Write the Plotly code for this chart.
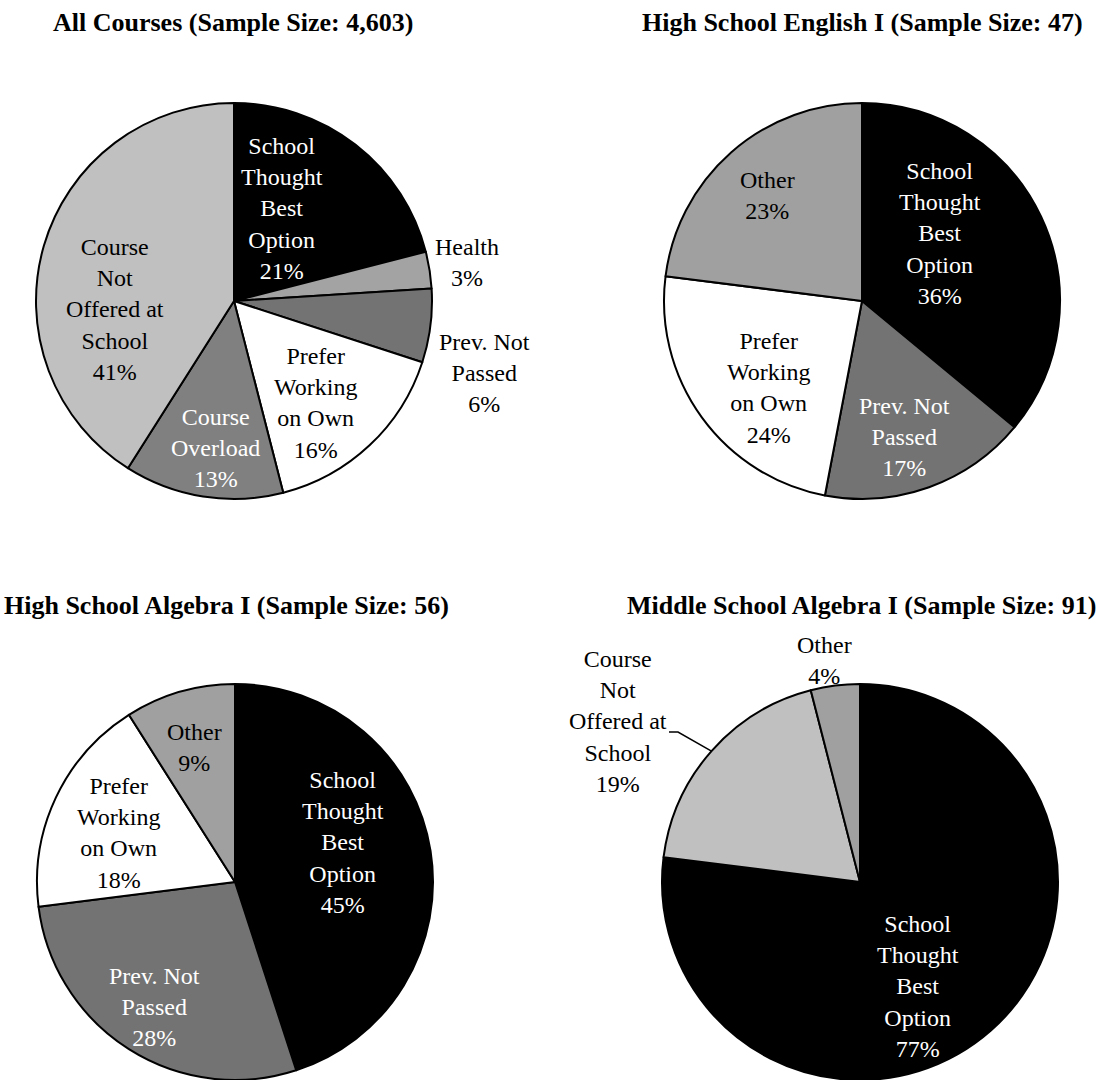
import math
import plotly.graph_objects as go

# ---- data -----------------------------------------------------------------
all_courses_cats = ["School Thought Best Option", "Health", "Prev. Not Passed",
                    "Prefer Working on Own", "Course Overload",
                    "Course Not Offered at School"]
all_courses_vals = [21, 3, 6, 16, 13, 41]

english_cats = ["School Thought Best Option", "Prev. Not Passed",
                "Prefer Working on Own", "Other"]
english_vals = [36, 17, 24, 23]

hs_algebra_cats = ["School Thought Best Option", "Prev. Not Passed",
                   "Prefer Working on Own", "Other"]
hs_algebra_vals = [45, 28, 18, 9]

ms_algebra_cats = ["School Thought Best Option", "Course Not Offered at School",
                   "Other"]
ms_algebra_vals = [77, 19, 4]

titles = ["All Courses (Sample Size: 4,603)",
          "High School English I (Sample Size: 47)",
          "High School Algebra I (Sample Size: 56)",
          "Middle School Algebra I (Sample Size: 91)"]

# ---- styling --------------------------------------------------------------
W, H = 1102, 1080
FONT = "Liberation Serif"

fill = {
    "School Thought Best Option": "#000000",
    "Health": "#a3a3a3",
    "Prev. Not Passed": "#737373",
    "Prefer Working on Own": "#ffffff",
    "Course Overload": "#808080",
    "Course Not Offered at School": "#c0c0c0",
    "Other": "#a0a0a0",
}
wrapped = {
    "School Thought Best Option": "School<br>Thought<br>Best<br>Option",
    "Health": "Health",
    "Prev. Not Passed": "Prev. Not<br>Passed",
    "Prefer Working on Own": "Prefer<br>Working<br>on Own",
    "Course Overload": "Course<br>Overload",
    "Course Not Offered at School": "Course<br>Not<br>Offered at<br>School",
    "Other": "Other",
}
dark_fills = {"#000000", "#737373", "#808080"}

R = 198
# pie centre (px), title centre (px), label offsets from pie centre (px)
panels = [
    dict(cats=all_courses_cats, vals=all_courses_vals, c=(234, 301), t=(233, 23),
         off=[(48, -93), (233, -39), (250, 72), (81, 102), (-19, 147), (-119, 9)]),
    dict(cats=english_cats, vals=english_vals, c=(862, 301), t=(862, 23),
         off=[(78, -68), (42, 136), (-94, 87), (-95, -106)]),
    dict(cats=hs_algebra_cats, vals=hs_algebra_vals, c=(235, 882), t=(226, 605),
         off=[(108, -40), (-81, 125), (-117, -49), (-41, -135)]),
    dict(cats=ms_algebra_cats, vals=ms_algebra_vals, c=(860, 882), t=(861, 605),
         off=[(58, 104), (-242, -161), (-36, -222)]),
]


def px(x, y):
    return x / W, 1 - y / H


def clamp(v):
    return min(1.0, max(0.0, v))


fig = go.Figure()
annotations = []
shapes = []

for i, p in enumerate(panels):
    cx, cy = p["c"]
    fig.add_trace(go.Pie(
        labels=p["cats"], values=p["vals"], sort=False,
        direction="clockwise", rotation=0,
        marker=dict(colors=[fill[c] for c in p["cats"]],
                    line=dict(color="#000000", width=2)),
        textinfo="none", hoverinfo="label+percent", showlegend=False,
        domain=dict(x=[clamp((cx - R) / W), clamp((cx + R) / W)],
                    y=[clamp(1 - (cy + R) / H), clamp(1 - (cy - R) / H)]),
        name=titles[i],
    ))
    tx, ty = px(*p["t"])
    annotations.append(dict(
        text=f"<b>{titles[i]}</b>", x=tx, y=ty, xref="paper", yref="paper",
        xanchor="center", yanchor="middle", showarrow=False,
        font=dict(family=FONT, size=26, color="#000000"),
    ))
    total = sum(p["vals"])
    for cat, v, (dx, dy) in zip(p["cats"], p["vals"], p["off"]):
        outside = math.hypot(dx, dy) > R
        col = "#000000" if outside or fill[cat] not in dark_fills else "#ffffff"
        lx, ly = px(cx + dx, cy + dy)
        annotations.append(dict(
            text=f"{wrapped[cat]}<br>{round(100 * v / total)}%",
            x=lx, y=ly, xref="paper", yref="paper",
            xanchor="center", yanchor="middle", align="center",
            showarrow=False,
            font=dict(family=FONT, size=24, color=col),
        ))

# leader line for the outside label of the 19% slice in the last pie
p = panels[3]
cx, cy = p["c"]
k = p["cats"].index("Course Not Offered at School")
start = sum(p["vals"][:k]) / sum(p["vals"]) * 360
mid = math.radians(start + p["vals"][k] / sum(p["vals"]) * 180)
ex, ey = cx + R * math.sin(mid), cy - R * math.cos(mid)
dx, dy = p["off"][k]
sx, sy = cx + dx + 51, cy + dy + 11
pts = [px(sx, sy), px(sx + 9, sy), px(ex, ey)]
shapes.append(dict(
    type="path", xref="paper", yref="paper",
    path="M {} {} L {} {} L {} {}".format(*[c for pt in pts for c in pt]),
    line=dict(color="#000000", width=1.5),
))

fig.update_layout(
    width=W, height=H,
    margin=dict(l=0, r=0, t=0, b=0),
    paper_bgcolor="#ffffff", plot_bgcolor="#ffffff",
    annotations=annotations, shapes=shapes,
    font=dict(family=FONT),
)

fig.write_html("out.html")
